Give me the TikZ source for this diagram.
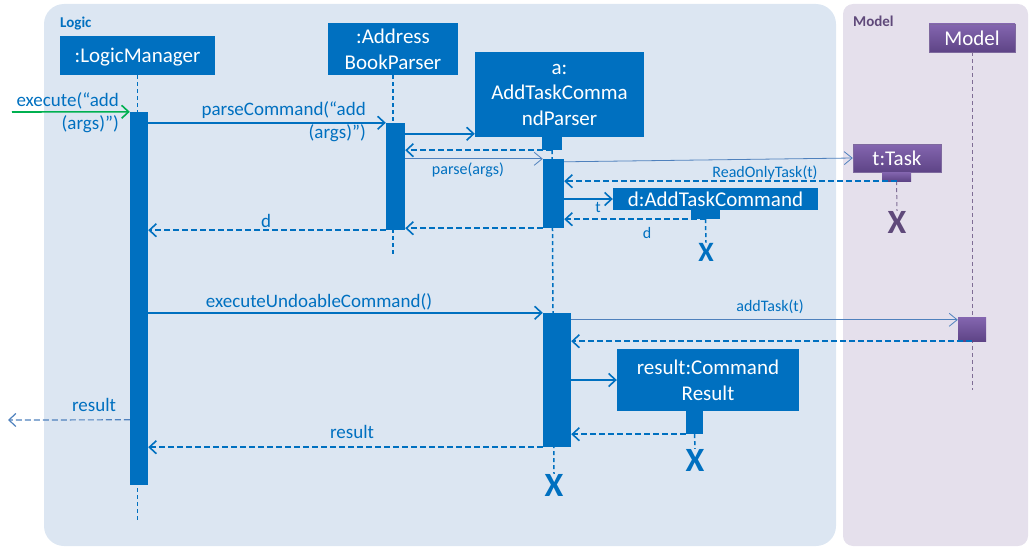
\documentclass[tikz,border=0pt]{standalone}
\usepackage{fontspec}
\setmainfont{Carlito}
\usetikzlibrary{arrows.meta,positioning,calc}
\definecolor{lmblue}{HTML}{0070C0}
\definecolor{thinblue}{HTML}{4F81BD}
\definecolor{logicbg}{HTML}{DCE6F2}
\definecolor{modelbg}{HTML}{E5E0EC}
\definecolor{ptop}{HTML}{8466B0}
\definecolor{pbot}{HTML}{5E4486}
\definecolor{pdark}{HTML}{5F497A}
\begin{document}
\begin{tikzpicture}[x=1pt, y=-1pt,
  obj/.style={fill=lmblue, text=white, inner sep=0pt, align=center, text depth=0pt, font=\fontsize{21}{25.5}\selectfont},
  pobj/.style={top color=ptop, bottom color=pbot, draw=pbot!80, text=white, inner sep=0pt, text depth=0pt, font=\fontsize{21}{25.5}\selectfont},
  bar/.style={fill=lmblue, inner sep=0pt},
  pbar/.style={top color=ptop, bottom color=pbot, inner sep=0pt},
  msg/.style={text=lmblue, inner sep=0pt, font=\fontsize{19}{23}\selectfont},
  smallmsg/.style={text=lmblue, inner sep=0pt, font=\fontsize{16}{19}\selectfont},
  xmark/.style={text=lmblue, inner sep=0pt, font=\fontsize{34}{34}\bfseries},
  call/.style={draw=lmblue, line width=1.6pt, -{Straight Barb[length=7pt,width=13pt]}},
  thincall/.style={draw=thinblue, line width=0.8pt, -{Straight Barb[length=8pt,width=13pt]}},
  reply/.style={draw=lmblue, line width=1.6pt, dash pattern=on 6pt off 3pt, -{Straight Barb[length=7pt,width=13pt]}},
  life/.style={draw=lmblue, line width=1.5pt, dash pattern=on 4pt off 3pt},
  plife/.style={draw=pdark!80, line width=1pt, dash pattern=on 4pt off 3pt}]
\useasboundingbox (0,0) rectangle (1031,551);
\fill[logicbg, rounded corners=20pt] (44,4) rectangle (836,546);
\fill[modelbg, rounded corners=10pt] (843,4) rectangle (1028,546);
\node[anchor=west, text=lmblue, inner sep=0pt, font=\fontsize{15}{18}\bfseries] (logiclbl) at (60,24) {Logic};
\node[anchor=west, text=pdark, inner sep=0pt, font=\fontsize{15}{18}\bfseries] (modellbl) at (853,21) {Model};

\node[obj, minimum width=155pt, minimum height=39pt] (lm) at (137.5,55.5) {:LogicManager};
\node[obj, minimum width=130pt, minimum height=52pt] (abp) at (393,49) {:Address\\BookParser};
\node[obj, minimum width=169pt, minimum height=85pt] (atcp) at (559.5,94.5) {a:\\AddTaskComma\\ndParser};
\node[bar, minimum width=20pt, minimum height=13pt] (atcpsm) at (552,143.5) {};
\node[pobj, minimum width=88pt, minimum height=28pt] (ttask) at (897,158) {t:Task};
\node[pbar, minimum width=29pt, minimum height=9pt] (tsm) at (896.5,176.5) {};
\node[obj, minimum width=205pt, minimum height=22pt] (dcmd) at (715.5,199) {d:AddTaskCommand};
\node[bar, minimum width=29pt, minimum height=9pt] (dsm) at (705.5,214.5) {};
\node[pobj, minimum width=86pt, minimum height=28pt] (model) at (972,38) {Model};
\node[obj, minimum width=182pt, minimum height=62pt] (result) at (708,380) {result:Command\\Result};
\node[bar, minimum width=17pt, minimum height=23pt] (rsm) at (694.5,422.5) {};

\node[xmark] (atcpx) at (554,485) {X};
\node[xmark, text=pdark] (tx) at (897,222) {X};
\node[xmark, font=\fontsize{28}{28}\bfseries] (dx) at (706,252) {X};
\node[xmark] (rx) at (695,460) {X};
\coordinate (lmend) at (137.5,523);
\coordinate (abpend) at (393,257);
\coordinate (modelend) at (972,390);

\draw[life] (lm.south) -- (lmend);
\draw[life] (abp.south) -- (abpend);
\draw[life] (atcpsm.south) -- (atcpx.north);
\draw[life] (dsm.south) -- (dx.north);
\draw[life] (rsm.south) -- (rx.north);
\draw[plife] (tsm.south) -- (tx.north);
\draw[plife] (model.south) -- (modelend);

\node[bar, minimum width=18pt, minimum height=373pt] (lmbar) at (139,298.5) {};
\node[bar, minimum width=19pt, minimum height=107pt] (abpbar) at (395.5,176.5) {};
\node[bar, minimum width=21pt, minimum height=69pt] (atcpbar) at (553.5,193.5) {};
\node[bar, minimum width=28pt, minimum height=134pt] (atcpbar2) at (557,380) {};
\node[pbar, minimum width=28pt, minimum height=24pt] (modelbar) at (972,329) {};

\coordinate (start) at (12,112);
\draw[call, draw={rgb,255:red,0;green,176;blue,80}] (start) -- (lmbar.north west);
\node[msg, anchor=east, align=right] (executelbl) at (119,113) {execute(“add\\(args)”)};

\draw[call] (lmbar.east |- abpbar.north) -- (abpbar.north west);
\node[msg, anchor=east, align=right] (parselbl) at (366,121.5) {parseCommand(“add\\(args)”)};

\draw[call] ($(abpbar.north east)+(0,11)$) -- (atcp.west |- {$(abpbar.north east)+(0,11)$});
\draw[reply] (atcpsm.south) -- (abpbar.east |- atcpsm.south);
\draw[thincall] (abpbar.east |- atcpbar.north) -- (atcpbar.north west);
\node[smallmsg] (parseargslbl) at (468,170) {parse(args)};

\draw[thincall] ($(atcpbar.north east)+(0,3)$) -- (ttask.west);
\draw[reply] (tsm.south) -- (atcpbar.east |- tsm.south);
\node[smallmsg] (readonlylbl) at (765,173) {ReadOnlyTask(t)};

\draw[call] (atcpbar.east |- dcmd.west) -- (dcmd.west);
\node[smallmsg] (tlbl) at (598,207) {t};
\draw[reply] (dsm.south) -- (atcpbar.east |- dsm.south);
\node[smallmsg] (dlbl) at (647,233) {d};

\draw[reply] (atcpbar.south west) -- (abpbar.east |- atcpbar.south);
\draw[reply] (abpbar.south west) -- (lmbar.east |- abpbar.south);
\node[msg] (dretlbl) at (266,221) {d};

\draw[call] (lmbar.east |- atcpbar2.north) -- (atcpbar2.north west);
\node[msg] (execundolbl) at (319,302) {executeUndoableCommand()};

\draw[thincall] (atcpbar2.east |- {$(modelbar.north west)+(0,3)$}) -- ($(modelbar.north west)+(0,3)$);
\node[smallmsg] (addtasklbl) at (770,307) {addTask(t)};
\draw[reply] (modelbar.south) -- (atcpbar2.east |- modelbar.south);

\draw[call] (atcpbar2.east |- result.west) -- (result.west);
\draw[reply] (rsm.south west) -- (atcpbar2.east |- rsm.south);

\draw[reply] (atcpbar2.south west) -- (lmbar.east |- atcpbar2.south);
\node[msg] (resultlbl) at (352,432) {result};

\coordinate (outend) at (8,420);
\draw[reply, draw=thinblue, line width=1.2pt] ($(lmbar.north west)+(0,308)$) -- (outend);
\node[msg] (resultoutlbl) at (94,405) {result};
\end{tikzpicture}
\end{document}
